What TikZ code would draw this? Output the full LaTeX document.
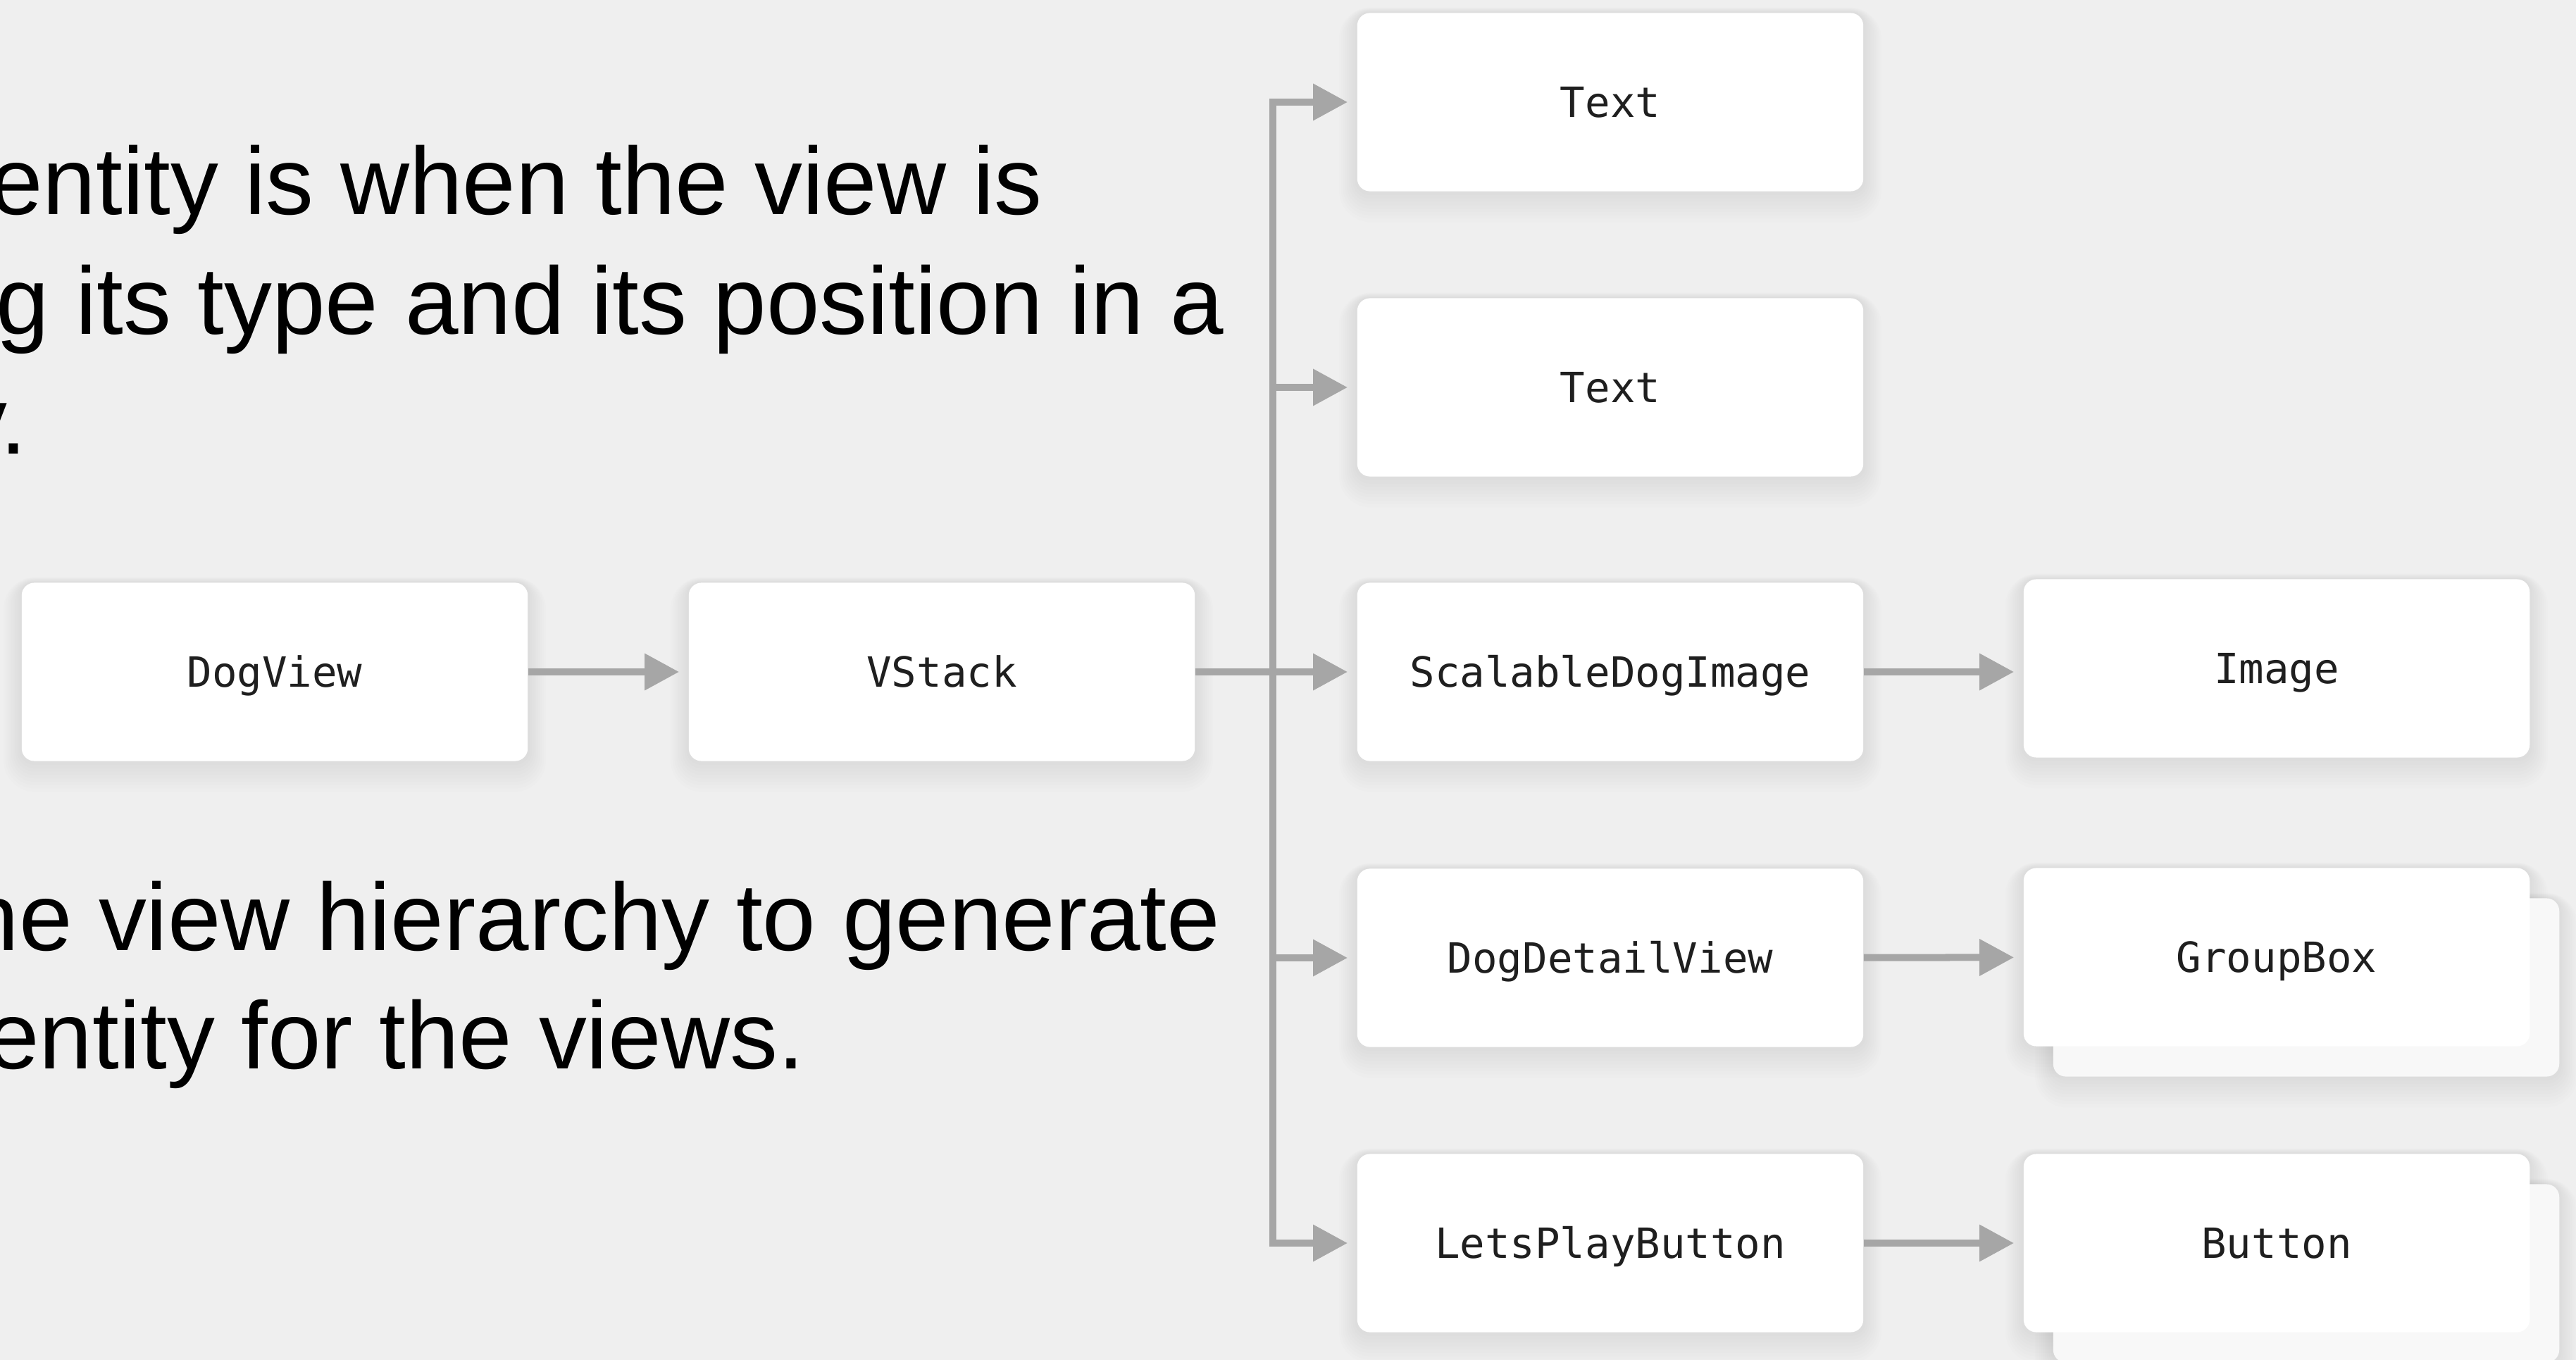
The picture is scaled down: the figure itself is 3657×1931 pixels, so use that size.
\documentclass[tikz,border=0pt]{standalone}
\usepackage{fontspec}
\setmainfont{Liberation Sans}
\newfontfamily\codefont{DejaVu Sans Mono}
\usetikzlibrary{arrows.meta}
\pgfdeclarelayer{canvaslayer}
\pgfdeclarelayer{halolayer}
\pgfsetlayers{canvaslayer,halolayer,main}
\definecolor{canvas}{HTML}{EFEFEF}
\definecolor{wire}{HTML}{A6A6A6}
\definecolor{ink}{HTML}{1F1F1F}
\definecolor{stackback}{HTML}{F8F8F8}
\tikzset{
  viewbox/.style={rectangle, rounded corners=0.18cm, fill=white,
    minimum width=7.18cm, minimum height=2.53cm, inner sep=0pt,
    text=ink, font=\codefont\fontsize{16.8pt}{20pt}\selectfont,
    text height=0.43cm, text depth=0pt},
  backbox/.style={viewbox, fill=stackback},
  wireline/.style={draw=wire, line width=0.1cm},
  conn/.style={wireline, -{Triangle[length=0.49cm,width=0.5cm]}, shorten >=0.13cm},
  body/.style={anchor=base east, inner sep=0pt,
    font=\fontsize{38.6pt}{48pt}\selectfont, text=black}
}
\begin{document}
\begin{tikzpicture}[x=0.01cm, y=-0.01cm]
  % canvas, one unit = one pixel, y grows downwards
  \useasboundingbox (0,0) rectangle (3657,1931);
  \begin{pgfonlayer}{canvaslayer}
    \fill[canvas] (0,0) rectangle (3657,1931);
  \end{pgfonlayer}
  \clip (0,0) rectangle (3657,1931);

  % explanatory text
  \node[body] (l1) at (1480,305) {entity is when the view is};
  \node[body] (l2) at (1738,475) {g its type and its position in a};
  \node[body] (l3) at (39,645) {y.};
  \node[body] (l4) at (1733,1349) {he view hierarchy to generate};
  \node[body] (l5) at (1143,1517) {entity for the views.};

  % stacked back cards
  \node[backbox] (gbback) at (3274,1402) {};
  \node[backbox] (btback) at (3274,1808) {};

  % view hierarchy
  \node[viewbox] (dog)    at (390,954)   {DogView};
  \node[viewbox] (vstack) at (1337,954)  {VStack};
  \node[viewbox] (t1)     at (2286,145)  {Text};
  \node[viewbox] (t2)     at (2286,550)  {Text};
  \node[viewbox] (sdi)    at (2286,954)  {ScalableDogImage};
  \node[viewbox] (ddv)    at (2286,1360) {DogDetailView};
  \node[viewbox] (lpb)    at (2286,1765) {LetsPlayButton};
  \node[viewbox] (img)    at (3232,949)  {Image};
  \node[viewbox] (gb)     at (3232,1359) {GroupBox};
  \node[viewbox] (bt)     at (3232,1765) {Button};

  % soft halo under every card, built from nested translucent fills
  \begin{pgfonlayer}{halolayer}
    \foreach \n in {dog,vstack,t1,t2,sdi,ddv,lpb,img,gb,bt,gbback,btback}{
      \foreach \k in {1,...,9}{
        \pgfmathsetmacro{\rr}{0.18+0.03*\k}
        \fill[black, fill opacity=0.0065, rounded corners=\rr cm]
          ([shift={(-0.028*\k cm,0.008*\k cm)}]\n.north west) rectangle
          ([shift={(0.028*\k cm,-0.048*\k cm)}]\n.south east);
      }
    }
  \end{pgfonlayer}

  % connectors
  \coordinate (hub) at (1807,954);
  \draw[conn] (dog) -- (vstack);
  \draw[wireline] (vstack) -- (hub);
  \draw[conn] (hub) |- (t1);
  \draw[conn] (hub) |- (t2);
  \draw[conn] (hub) -- (sdi);
  \draw[conn] (hub) |- (ddv);
  \draw[conn] (hub) |- (lpb);
  \draw[conn] (sdi) -- (sdi -| img.west);
  \draw[conn] (ddv) -- (gb);
  \draw[conn] (lpb) -- (bt);
\end{tikzpicture}
\end{document}
